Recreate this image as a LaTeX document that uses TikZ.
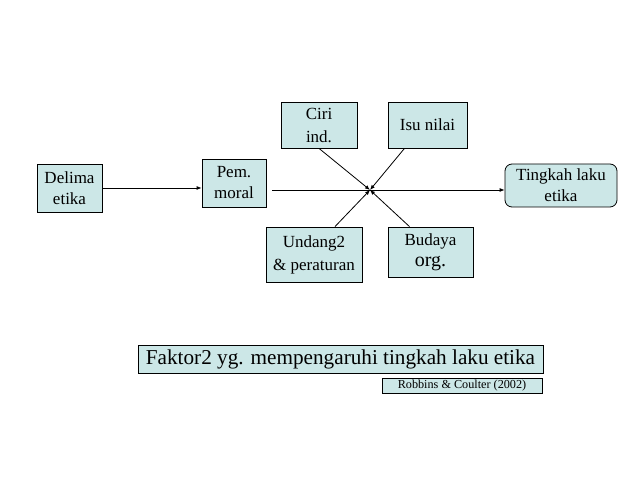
\documentclass[tikz,border=0pt]{standalone}
\usepackage{fontspec}
\setmainfont{Liberation Serif}
\usepackage{tikz}
\usetikzlibrary{positioning, arrows.meta, calc}

\definecolor{boxfill}{RGB}{204,231,231}

\begin{document}
\begin{tikzpicture}[
            x=1pt, y=1pt,
            factor/.style={draw=black, thick, fill=boxfill, rectangle, align=center, inner sep=0pt, font=\fontsize{17}{21}\selectfont},
            roundfactor/.style={factor, rounded corners=7pt},
            caption/.style={draw=black, thick, fill=boxfill, rectangle, inner sep=0pt},
            link/.style={line width=0.8pt, -{Latex[length=5pt, width=4pt]}}
        ]
        \useasboundingbox (0,0) rectangle (638,479);

        % Nodes
        \node[factor, minimum width=65, minimum height=48] (delima) at (69.5,291) {Delima\\etika};
        \node[factor, minimum width=64, minimum height=48] (pem) at (234,296) {Pem.\\moral};
        \node[factor, minimum width=76, minimum height=46] (ciri) at (319,354) {Ciri\\[2pt]ind.};
        \node[factor, minimum width=79, minimum height=46] (isu) at (427.5,354) {Isu nilai};
        \node[factor, minimum width=96, minimum height=55] (undang) at (314,224.5) {Undang2\\[2pt]\& peraturan};
        \node[factor, minimum width=85, minimum height=50] (budaya) at (430.5,227) {Budaya\\{\fontsize{20}{22}\selectfont org.}};
        \node[roundfactor, minimum width=112, minimum height=43] (tingkah) at (561,293.5) {Tingkah laku\\etika};
        \coordinate (hub) at (370,289);

        \node[caption, minimum width=405, minimum height=28, font=\fontsize{21.2}{25}\selectfont] (faktor) at (340.5,120) {Faktor2 yg. mempengaruhi tingkah laku etika};
        \node[caption, minimum width=160, minimum height=15, font=\fontsize{12.2}{13}\selectfont] (robbins) at (462,93.5) {Robbins \& Coulter (2002)};

        % Arrows
        \draw[link] (delima.east) -- (delima.east -| pem.west);
        \draw[link] ([xshift=6pt]pem.east |- hub) -- (hub -| tingkah.west);
        \draw[link] (ciri.south) -- (hub);
        \draw[link] ([xshift=-23pt]isu.south) -- (hub);
        \draw[link] ([xshift=21pt]undang.north) -- (hub);
        \draw[link] ([xshift=-21pt]budaya.north) -- (hub);

    \end{tikzpicture}
\end{document}
